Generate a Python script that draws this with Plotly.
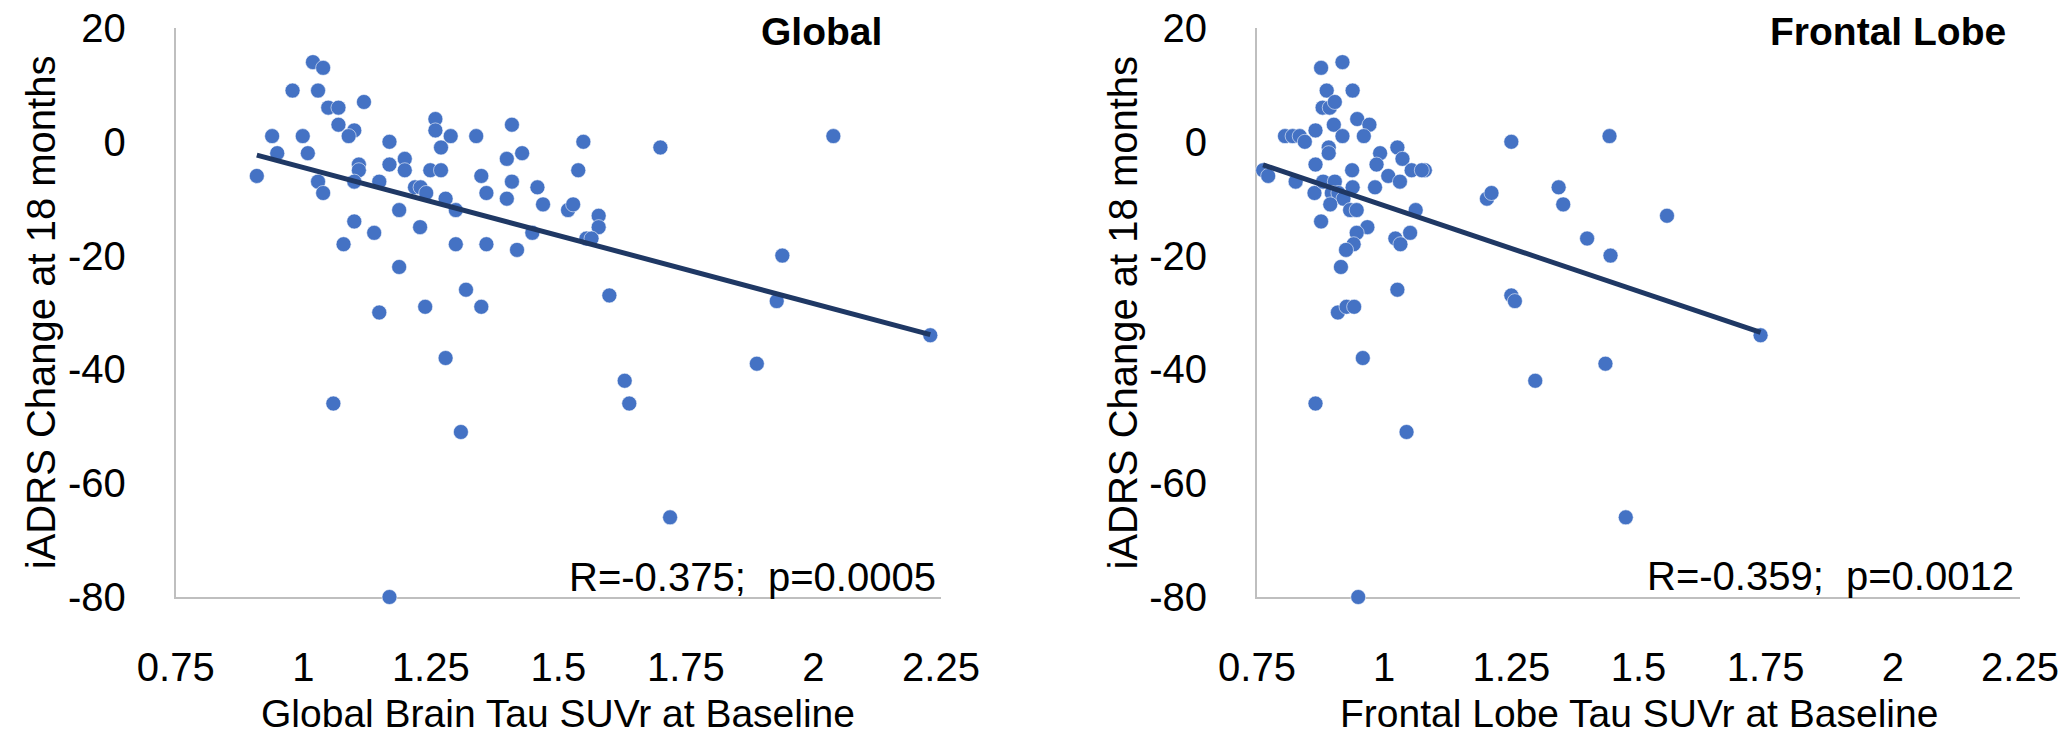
import numpy as np
import plotly.graph_objects as go

# ---------------- data ----------------
global_x = [0.909, 0.939, 0.949, 0.979, 0.999, 1.009, 1.019, 1.039, 1.029, 1.029,
            1.039, 1.049, 1.069, 1.069, 1.100, 1.089, 1.119, 1.109, 1.109, 1.100,
            1.100, 1.079, 1.139, 1.149, 1.169, 1.169, 1.199, 1.199, 1.188, 1.188,
            1.219, 1.230, 1.241, 1.229, 1.249, 1.259, 1.259, 1.270, 1.270, 1.279,
            1.289, 1.299, 1.299, 1.319, 1.339, 1.349, 1.359, 1.359, 1.399, 1.399,
            1.409, 1.409, 1.429, 1.419, 1.449, 1.459, 1.470, 1.519, 1.529, 1.539,
            1.549, 1.579, 1.579, 1.555, 1.565, 1.600, 1.700, 2.039, 1.939, 1.928,
            2.229, 1.889, 1.630, 1.639, 1.719, 1.149, 1.239, 1.349, 1.279, 1.059,
            1.309, 1.169]
global_y = [-6, 1, -2, 9, 1, -2, 14, 13, 9, -7,
            -9, 6, 6, 3, 2, 1, 7, -4, -5, -7,
            -14, -18, -16, -7, 0, -4, -3, -5, -12, -22,
            -8, -8, -9, -15, -5, 4, 2, -1, -5, -10,
            1, -12, -18, -26, 1, -6, -9, -18, -3, -10,
            3, -7, -2, -19, -16, -8, -11, -12, -11, -5,
            0, -13, -15, -17, -17, -27, -1, 1, -20, -28,
            -34, -39, -42, -46, -66, -30, -29, -29, -38, -46,
            -51, -80]

frontal_x = [0.762, 0.772, 0.805, 0.820, 0.834, 0.844, 0.826, 0.865, 0.865, 0.863,
             0.876, 0.876, 0.887, 0.879, 0.893, 0.903, 0.901, 0.918, 0.918, 0.891,
             0.891, 0.880, 0.903, 0.897, 0.910, 0.920, 0.894, 0.938, 0.947, 0.971,
             0.960, 0.937, 0.938, 0.933, 0.946, 0.967, 0.946, 0.940, 0.925, 0.915,
             0.992, 0.985, 0.982, 1.008, 1.026, 1.036, 1.031, 1.054, 1.080, 1.074,
             1.062, 1.022, 1.032, 1.051, 1.026, 0.909, 0.926, 0.941, 0.958, 0.865,
             1.044, 0.949, 1.250, 1.202, 1.211, 1.250, 1.257, 1.443, 1.343, 1.352,
             1.556, 1.399, 1.445, 1.740, 1.435, 1.297, 1.475]
frontal_y = [-5, -6, 1, 1, 1, 0, -7, 2, -4, -9,
             13, -14, 9, 6, 6, 7, 3, 14, 1, -1,
             -2, -7, -7, -9, -9, -10, -11, 9, 4, 3,
             1, -5, -8, -12, -12, -15, -16, -18, -19, -22,
             -2, -4, -8, -6, -1, -3, -7, -5, -5, -5,
             -12, -17, -18, -16, -26, -30, -29, -29, -38, -46,
             -51, -80, 0, -10, -9, -27, -28, 1, -8, -11,
             -13, -17, -20, -34, -39, -42, -66]

panel_titles = ["Global", "Frontal Lobe"]
x_titles = ["Global Brain Tau SUVr at Baseline", "Frontal Lobe Tau SUVr at Baseline"]
y_title = "iADRS Change at 18 months"
stats_text = ["R=-0.375;\u00a0 p=0.0005", "R=-0.359;\u00a0 p=0.0012"]

x_tickvals = [0.75, 1, 1.25, 1.5, 1.75, 2, 2.25]
x_ticktext = ["0.75", "1", "1.25", "1.5", "1.75", "2", "2.25"]
y_tickvals = [20, 0, -20, -40, -60, -80]
y_ticktext = ["20", "0", "-20", "-40", "-60", "-80"]

# ---------------- styling ----------------
W, H = 2069, 739
FONT = "Liberation Sans, Arial, Helvetica, sans-serif"
MARKER = "#4472C4"
LINE = "#1F3864"
AXIS = "#BFBFBF"

# plot areas in pixels
left_px = [(175.7, 941.0), (1257.0, 2020.0)]
top_px, bot_px = 28.0, 597.0

fig = go.Figure()

datasets = [(global_x, global_y), (frontal_x, frontal_y)]
for i, (xs, ys) in enumerate(datasets):
    xa = "x" if i == 0 else "x2"
    ya = "y" if i == 0 else "y2"
    fig.add_trace(go.Scatter(
        x=xs, y=ys, mode="markers", xaxis=xa, yaxis=ya,
        marker=dict(size=15, color=MARKER, line=dict(width=0.8, color="rgba(255,255,255,0.7)")),
        cliponaxis=False, showlegend=False, hoverinfo="skip"))
    # least-squares trend line computed from the data
    xa_arr = np.array(xs, dtype=float)
    ya_arr = np.array(ys, dtype=float)
    slope, icpt = np.polyfit(xa_arr, ya_arr, 1)
    xl = np.array([xa_arr.min(), xa_arr.max()])
    fig.add_trace(go.Scatter(
        x=xl, y=slope * xl + icpt, mode="lines", xaxis=xa, yaxis=ya,
        line=dict(color=LINE, width=5), cliponaxis=False,
        showlegend=False, hoverinfo="skip"))

def xaxis_style(dom, anchor):
    return dict(domain=dom, anchor=anchor, range=[0.75, 2.25],
                tickvals=x_tickvals, ticktext=x_ticktext,
                showline=True, linecolor=AXIS, linewidth=2,
                showgrid=False, zeroline=False, ticks="",
                ticklabelstandoff=34, automargin=False,
                tickfont=dict(family=FONT, size=40, color="#000000"),
                layer="below traces")

def yaxis_style(dom, anchor):
    return dict(domain=dom, anchor=anchor, range=[-80, 20],
                tickvals=y_tickvals, ticktext=y_ticktext,
                showline=True, linecolor=AXIS, linewidth=2,
                showgrid=False, zeroline=False, ticks="",
                ticklabelstandoff=40, automargin=False,
                tickfont=dict(family=FONT, size=40, color="#000000"),
                layer="below traces")

ydom = [1 - bot_px / H, 1 - top_px / H]
xdom1 = [left_px[0][0] / W, left_px[0][1] / W]
xdom2 = [left_px[1][0] / W, left_px[1][1] / W]

annotations = []
for i in range(2):
    l, r = left_px[i]
    cx = (l + r) / 2
    # x-axis title
    annotations.append(dict(text=x_titles[i], x=cx / W, y=1 - 713 / H, xref="paper", yref="paper",
                            xanchor="center", yanchor="middle", showarrow=False,
                            font=dict(family=FONT, size=39, color="#000000")))
    # y-axis title
    annotations.append(dict(text=y_title, x=(l - 134) / W, y=1 - 312.5 / H, xref="paper", yref="paper",
                            xanchor="center", yanchor="middle", showarrow=False, textangle=-90,
                            font=dict(family=FONT, size=40, color="#000000")))
# panel titles
annotations.append(dict(text="<b>" + panel_titles[0] + "</b>", x=884 / W, y=1 - 31 / H,
                        xref="paper", yref="paper", xanchor="right", yanchor="middle",
                        showarrow=False, font=dict(family=FONT, size=39, color="#000000")))
annotations.append(dict(text="<b>" + panel_titles[1] + "</b>", x=2008 / W, y=1 - 31 / H,
                        xref="paper", yref="paper", xanchor="right", yanchor="middle",
                        showarrow=False, font=dict(family=FONT, size=39, color="#000000")))
# stats text
annotations.append(dict(text=stats_text[0], x=938 / W, y=1 - 577 / H,
                        xref="paper", yref="paper", xanchor="right", yanchor="middle",
                        showarrow=False, font=dict(family=FONT, size=40, color="#000000")))
annotations.append(dict(text=stats_text[1], x=2016 / W, y=1 - 576 / H,
                        xref="paper", yref="paper", xanchor="right", yanchor="middle",
                        showarrow=False, font=dict(family=FONT, size=40, color="#000000")))

fig.update_layout(
    width=W, height=H,
    margin=dict(l=0, r=0, t=0, b=0, pad=0),
    paper_bgcolor="white", plot_bgcolor="white",
    xaxis=xaxis_style(xdom1, "y"),
    yaxis=yaxis_style(ydom, "x"),
    xaxis2=xaxis_style(xdom2, "y2"),
    yaxis2=yaxis_style(ydom, "x2"),
    annotations=annotations,
    font=dict(family=FONT, color="#000000"),
)

fig.write_html("out.html", config={"displayModeBar": False})
